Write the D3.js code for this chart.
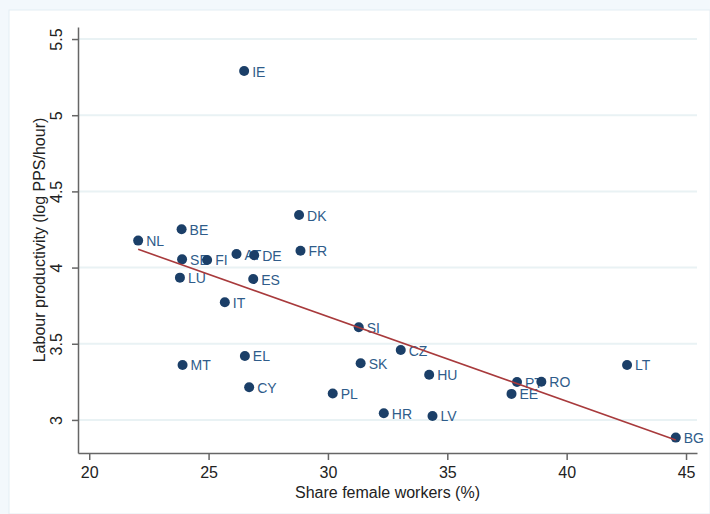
<!DOCTYPE html>
<html>
<head>
<meta charset="utf-8">
<script src="https://cdn.jsdelivr.net/npm/d3@7"></script>
<style>
  body { margin: 0; background: #f3f8fc; }
  svg { display: block; font-family: "Liberation Sans", Arial, sans-serif; }
</style>
</head>
<body>
<script>
// country codes, share of female workers (%) and log labour productivity
const countries = ['IE', 'DK', 'FR', 'NL', 'BE', 'SE', 'FI', 'AT', 'DE', 'LU', 'ES', 'IT',
  'SI', 'CZ', 'SK', 'HU', 'PT', 'RO', 'EE', 'LT', 'PL', 'HR', 'LV', 'BG', 'MT', 'EL', 'CY'];
const femaleShare = [26.49, 28.79, 28.85, 22.05, 23.87, 23.89, 24.94, 26.17, 26.91, 23.80, 26.87, 25.68,
  31.29, 33.05, 31.37, 34.24, 37.92, 38.94, 37.69, 42.53, 30.20, 32.34, 34.38, 44.57, 23.91, 26.52, 26.70];
const productivity = [5.29, 4.345, 4.111, 4.177, 4.251, 4.054, 4.05, 4.089, 4.081, 3.934, 3.925, 3.772,
  3.608, 3.459, 3.372, 3.297, 3.249, 3.251, 3.171, 3.361, 3.173, 3.044, 3.026, 2.884, 3.361, 3.42, 3.215];

// fitted line, read at its two ends
const fitX = [22.05, 44.57];
const fitY = [4.12, 2.869];

const xTicks = [20, 25, 30, 35, 40, 45];
const yTicks = [3, 3.5, 4, 4.5, 5, 5.5];

const width = 710;
const height = 514;

const svg = d3.select('body').append('svg')
  .attr('width', width)
  .attr('height', height);

// white panel
svg.append('rect')
  .attr('x', 9).attr('y', 10)
  .attr('width', width - 9).attr('height', height - 10)
  .attr('fill', '#fff')
  .attr('stroke', '#e4edf3');

const x = d3.scaleLinear().domain([19.53, 45.46]).range([78, 697]);
const y = d3.scaleLinear().domain([2.783, 5.579]).range([453, 27]);

// gridlines
svg.append('g')
  .selectAll('line')
  .data(yTicks)
  .join('line')
  .attr('x1', x.range()[0]).attr('x2', x.range()[1])
  .attr('y1', d => y(d)).attr('y2', d => y(d))
  .attr('stroke', '#e9f2f4')
  .attr('stroke-width', 2);

// x axis
const gx = svg.append('g')
  .attr('transform', `translate(0,${y.range()[0]})`)
  .call(d3.axisBottom(x).tickValues(xTicks).tickSize(7).tickSizeOuter(0).tickFormat(d3.format('d')));
gx.select('.domain').attr('stroke', '#666').attr('stroke-width', 1.5);
gx.selectAll('.tick line').attr('stroke', '#666').attr('stroke-width', 1.5);
gx.selectAll('.tick text')
  .attr('y', 25).attr('dy', 0)
  .attr('fill', '#222')
  .style('font-size', '16px');

// y axis
const gy = svg.append('g')
  .attr('transform', `translate(${x.range()[0]},0)`)
  .call(d3.axisLeft(y).tickValues(yTicks).tickSize(6).tickSizeOuter(0).tickFormat(d3.format('')));
gy.select('.domain').attr('stroke', '#666').attr('stroke-width', 1.5);
gy.selectAll('.tick line').attr('stroke', '#666').attr('stroke-width', 1.5);
gy.selectAll('.tick text')
  .attr('transform', 'rotate(-90)')
  .attr('x', 0).attr('y', -16).attr('dy', 0)
  .attr('text-anchor', 'middle')
  .attr('fill', '#222')
  .style('font-size', '16px');

// axis titles
svg.append('text')
  .attr('x', (x.range()[0] + x.range()[1]) / 2)
  .attr('y', 498)
  .attr('text-anchor', 'middle')
  .attr('fill', '#222')
  .style('font-size', '16px')
  .text('Share female workers (%)');

svg.append('text')
  .attr('transform', `translate(45,${(y.range()[0] + y.range()[1]) / 2}) rotate(-90)`)
  .attr('text-anchor', 'middle')
  .attr('fill', '#222')
  .style('font-size', '16px')
  .text('Labour productivity (log PPS/hour)');

// points and labels
const points = countries.map((c, i) => ({ code: c, fx: femaleShare[i], py: productivity[i] }));

svg.append('g')
  .selectAll('text')
  .data(points)
  .join('text')
  .attr('x', d => x(d.fx) + 8)
  .attr('y', d => y(d.py) + 5.5)
  .attr('fill', '#2f5c8a')
  .style('font-size', '14px')
  .text(d => d.code);

svg.append('g')
  .selectAll('circle')
  .data(points)
  .join('circle')
  .attr('cx', d => x(d.fx))
  .attr('cy', d => y(d.py))
  .attr('r', 5)
  .attr('fill', '#1b3f68');

// fitted line
const fit = fitX.map((v, i) => [v, fitY[i]]);
svg.append('path')
  .datum(fit)
  .attr('d', d3.line().x(d => x(d[0])).y(d => y(d[1])))
  .attr('fill', 'none')
  .attr('stroke', '#a83a3c')
  .attr('stroke-width', 1.6);
</script>
</body>
</html>
